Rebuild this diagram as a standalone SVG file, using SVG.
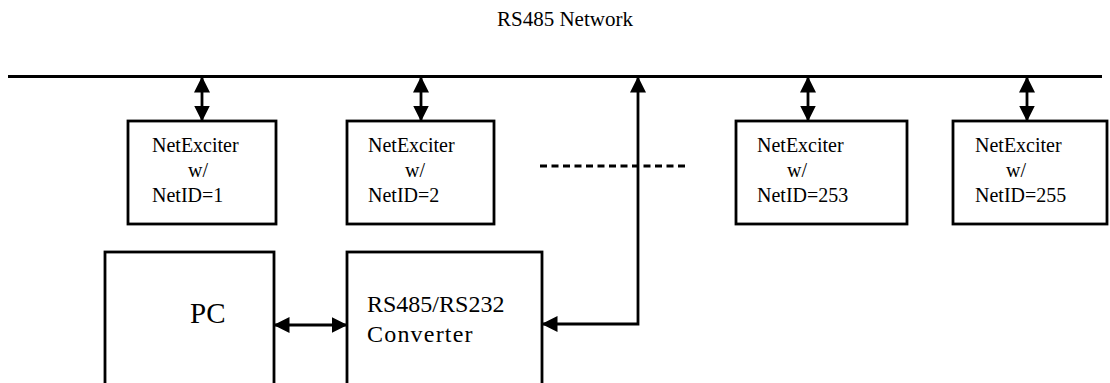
<svg xmlns="http://www.w3.org/2000/svg" width="1110" height="383" viewBox="0 0 1110 383">
<style>
  .box { fill: #fff; stroke: #000; stroke-width: 2.8; }
  .ln { fill: none; stroke: #000; stroke-width: 2.8; }
  .t { font-family: "Liberation Serif", "Times New Roman", serif; fill: #000; }
  .s { font-size: 20px; }
  .m { font-size: 24px; }
</style>
<defs>
  <marker id="ah" markerUnits="userSpaceOnUse" markerWidth="16" markerHeight="16" viewBox="0 0 16 16" refX="15.5" refY="8" orient="auto-start-reverse">
    <path d="M0,0 L16,8 L0,16 Z" fill="#000"/>
  </marker>
</defs>
<rect width="1110" height="383" fill="#fff"/>
<text class="t" x="497" y="26" font-size="21">RS485 Network</text>
<g id="connectors">
  <line class="ln" x1="8" y1="76.5" x2="1102" y2="76.5"/>
  <line class="ln" x1="202" y1="77" x2="202" y2="121" marker-start="url(#ah)" marker-end="url(#ah)"/>
  <line class="ln" x1="421" y1="77" x2="421" y2="121" marker-start="url(#ah)" marker-end="url(#ah)"/>
  <line class="ln" x1="808" y1="77" x2="808" y2="121" marker-start="url(#ah)" marker-end="url(#ah)"/>
  <line class="ln" x1="1027" y1="77" x2="1027" y2="121" marker-start="url(#ah)" marker-end="url(#ah)"/>
  <line class="ln" x1="540" y1="166" x2="688" y2="166" stroke-dasharray="7,4.5"/>
  <polyline class="ln" points="542,324 638,324 638,77" marker-start="url(#ah)" marker-end="url(#ah)"/>
  <line class="ln" x1="274" y1="325" x2="347" y2="325" marker-start="url(#ah)" marker-end="url(#ah)"/>
</g>
<g id="node1">
  <rect class="box" x="128" y="121" width="148" height="103"/>
  <text class="t s" x="152" y="152">NetExciter</text>
  <text class="t s" x="188" y="177">w/</text>
  <text class="t s" x="152" y="202">NetID=1</text>
</g>
<g id="node2">
  <rect class="box" x="347" y="121" width="147" height="103"/>
  <text class="t s" x="368" y="152">NetExciter</text>
  <text class="t s" x="405" y="177">w/</text>
  <text class="t s" x="368" y="202">NetID=2</text>
</g>
<g id="node253">
  <rect class="box" x="736" y="121" width="171" height="103"/>
  <text class="t s" x="757" y="152">NetExciter</text>
  <text class="t s" x="787" y="177">w/</text>
  <text class="t s" x="757" y="202">NetID=253</text>
</g>
<g id="node255">
  <rect class="box" x="953" y="121" width="154" height="103"/>
  <text class="t s" x="975" y="152">NetExciter</text>
  <text class="t s" x="1006" y="177">w/</text>
  <text class="t s" x="975" y="202">NetID=255</text>
</g>
<g id="pc">
  <rect class="box" x="105" y="252" width="169" height="140"/>
  <text class="t" x="190" y="323" font-size="29">PC</text>
</g>
<g id="converter">
  <rect class="box" x="347" y="252" width="195" height="140"/>
  <text class="t m" x="367" y="312">RS485/RS232</text>
  <text class="t m" x="367" y="342" letter-spacing="1.2">Converter</text>
</g>
</svg>
